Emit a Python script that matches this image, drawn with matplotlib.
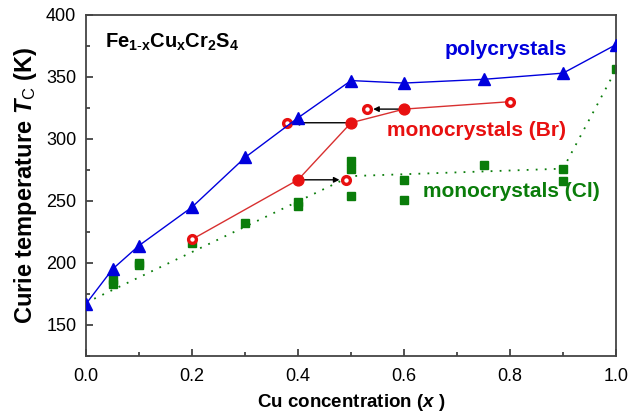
import matplotlib
matplotlib.use("Agg")
import matplotlib.pyplot as plt
from matplotlib.ticker import MultipleLocator, FormatStrFormatter

plt.rcParams['font.family'] = ['Liberation Sans', 'DejaVu Sans']
plt.rcParams['mathtext.fontset'] = 'custom'
plt.rcParams['mathtext.rm'] = 'Liberation Sans'
plt.rcParams['mathtext.bf'] = 'Liberation Sans:bold'
plt.rcParams['mathtext.it'] = 'Liberation Sans:italic'
plt.rcParams['mathtext.bfit'] = 'Liberation Sans:italic:bold'

# polycrystals
x_poly = [0.0, 0.05, 0.1, 0.2, 0.3, 0.4, 0.5, 0.6, 0.75, 0.9, 1.0]
tc_poly = [167, 195, 214, 245, 285, 317, 347, 345, 348, 353, 376]

# monocrystals (Br): line through open/filled points
x_br_line = [0.2, 0.4, 0.5, 0.6, 0.8]
tc_br_line = [219, 267, 313, 324, 330]
x_br_filled = [0.4, 0.5, 0.6]
tc_br_filled = [267, 313, 324]
x_br_open = [0.2, 0.38, 0.49, 0.53, 0.8]
tc_br_open = [219, 313, 267, 324, 330]
# shifts filled -> open
arrow_from = [(0.5, 313), (0.6, 324), (0.4, 267)]
arrow_to = [(0.38, 313), (0.53, 324), (0.49, 267)]

# monocrystals (Cl)
x_cl = [0.05, 0.05, 0.1, 0.1, 0.2, 0.3, 0.4, 0.4, 0.5, 0.5, 0.5, 0.6, 0.6, 0.75, 0.9, 0.9, 1.0]
tc_cl = [183, 186, 198, 200, 216, 232, 246, 249, 276, 282, 254, 267, 251, 279, 276, 266, 356]
x_cl_guide = [0.0, 0.5, 0.9, 1.0]
tc_cl_guide = [168, 270, 276, 356]

blue = '#0000dd'
red = '#e81010'
green = '#0a7d0a'

fig = plt.figure(figsize=(6.28, 4.12), dpi=100)
ax = fig.add_axes([0.137, 0.136, 0.844, 0.828])

ax.plot(x_cl_guide, tc_cl_guide, color=green, lw=1.3, linestyle=(0, (1, 4)), zorder=1)
ax.plot(x_cl, tc_cl, 's', color=green, ms=6, zorder=2)

ax.plot(x_br_line, tc_br_line, '-', color='#d83030', lw=1, zorder=3)
for (x0, y0), (x1, y1) in zip(arrow_from, arrow_to):
    ax.annotate('', xy=(x1, y1), xytext=(x0, y0),
                arrowprops=dict(arrowstyle='-|>', color='black', lw=1,
                                mutation_scale=8, shrinkA=0, shrinkB=4.5),
                zorder=4)
ax.plot(x_br_filled, tc_br_filled, 'o', color=red, ms=7.8, zorder=5)
ax.plot(x_br_open, tc_br_open, 'o', mfc='white', mec=red, mew=2.4, ms=5.6, zorder=5)

ax.plot(x_poly, tc_poly, '^-', color=blue, lw=1, ms=8, zorder=6)

ax.text(0.036, 373.5,
        r'$\mathbf{Fe}_{\mathbf{1\text{-}x}}\mathbf{Cu}_{\mathbf{x}}\mathbf{Cr}_{\mathbf{2}}\mathbf{S}_{\mathbf{4}}$',
        fontsize=14.5, va='baseline')
ax.text(0.677, 368, 'polycrystals', color=blue, fontsize=15,
        fontweight='bold', va='baseline')
ax.text(0.567, 302, 'monocrystals (Br)', color=red, fontsize=15,
        fontweight='bold', va='baseline')
ax.text(0.636, 253, 'monocrystals (Cl)', color=green, fontsize=15,
        fontweight='bold', va='baseline')

ax.set_xlim(0, 1.0)
ax.set_ylim(125, 400)
ax.xaxis.set_major_locator(MultipleLocator(0.2))
ax.xaxis.set_minor_locator(MultipleLocator(0.1))
ax.yaxis.set_major_locator(MultipleLocator(50))
ax.yaxis.set_minor_locator(MultipleLocator(25))
ax.xaxis.set_major_formatter(FormatStrFormatter('%.1f'))
ax.tick_params(which='both', direction='in', top=False, right=False,
               labelsize=13, colors='#333333', labelcolor='black')
ax.tick_params(which='major', length=5, width=1.2, pad=7)
ax.tick_params(axis='x', which='major', pad=9)
ax.tick_params(which='minor', length=3, width=1.2)
for s in ax.spines.values():
    s.set_linewidth(1.3)
    s.set_color('#444444')

ax.set_xlabel(r'Cu concentration ($\mathbfit{x}$ )', fontsize=13.5,
              fontweight='bold', labelpad=5)
ax.set_ylabel(r'Curie temperature $\mathbfit{T}_{\mathrm{C}}$ (K)', fontsize=17,
              fontweight='bold', labelpad=5)

fig.savefig('out.png', dpi=100)
